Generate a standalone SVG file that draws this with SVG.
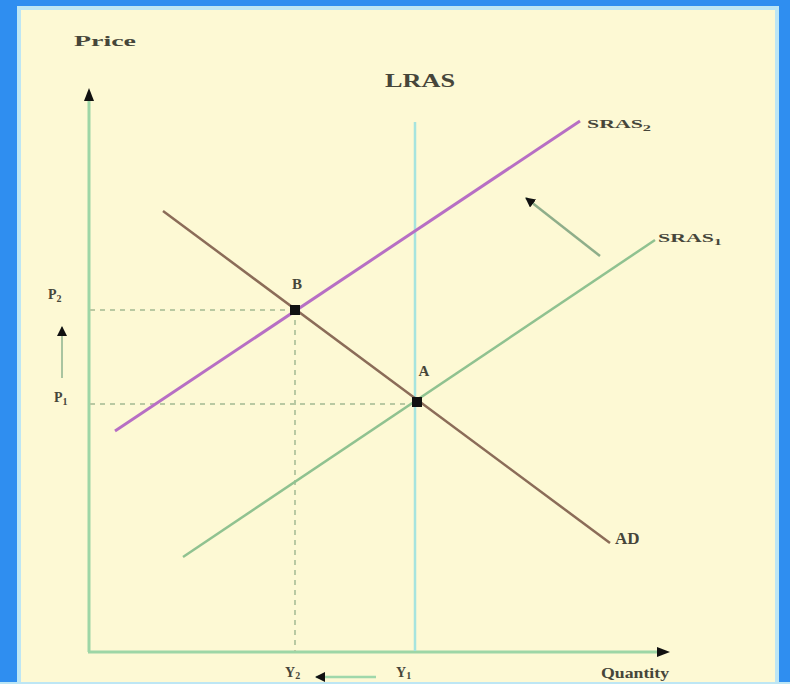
<svg xmlns="http://www.w3.org/2000/svg" width="790" height="684" viewBox="0 0 790 684">
<defs>
<style>
.lbl{font-family:"Liberation Serif",serif;font-weight:bold;fill:#46463a}
.axis{stroke:#9dd6a6;stroke-width:3;fill:none}
.dash{stroke:#b9c9a2;stroke-width:2;stroke-dasharray:5 5;fill:none}
.pt{fill:#111}
</style>
<marker id="ah2" viewBox="0 0 10 10" refX="9" refY="5" markerWidth="10" markerHeight="10" orient="auto" markerUnits="userSpaceOnUse">
<path d="M0,0 L10,5 L0,10 z" fill="#111"/>
</marker>
</defs>
<rect x="0" y="0" width="790" height="684" fill="#2f8ef0"/>
<rect x="19" y="8" width="758" height="680" fill="#fdf9d4" stroke="#bde6f4" stroke-width="4"/>

<g id="axes">
<line class="axis" x1="89" y1="652" x2="89" y2="100"/>
<path d="M89,88 L84,101 L94,101 z" fill="#111"/>
<line class="axis" x1="88" y1="652" x2="658" y2="652"/>
<path d="M670,652 L657,647 L657,657 z" fill="#111"/>
</g>

<g id="connectors">
<line class="dash" x1="90" y1="310" x2="295" y2="310"/>
<line class="dash" x1="90" y1="404" x2="417" y2="404"/>
<line class="dash" x1="295" y1="310" x2="295" y2="651"/>
<line x1="415" y1="122" x2="415" y2="651" stroke="#a6e4de" stroke-width="2.5"/>
<line x1="183" y1="557" x2="655" y2="240" stroke="#90c290" stroke-width="2.5"/>
<line x1="115" y1="431" x2="580" y2="121" stroke="#b76fc4" stroke-width="3"/>
<line x1="163" y1="211" x2="610" y2="543" stroke="#8b6c58" stroke-width="2.5"/>
<line x1="600" y1="256" x2="526" y2="198" stroke="#8fae8a" stroke-width="2.5" marker-end="url(#ah2)"/>
<line x1="62" y1="378" x2="62" y2="327" stroke="#a9c4a0" stroke-width="2" marker-end="url(#ah2)"/>
<line x1="376" y1="677" x2="316" y2="677" stroke="#9fd8aa" stroke-width="2.5" marker-end="url(#ah2)"/>
</g>

<g id="pointB"><rect class="pt" x="290" y="305" width="10" height="10"/><text class="lbl" x="297" y="289" font-size="15" text-anchor="middle">B</text></g>
<g id="pointA"><rect class="pt" x="412" y="397" width="10" height="10"/><text class="lbl" x="424" y="376" font-size="15" text-anchor="middle">A</text></g>

<g id="labels">
<text class="lbl" x="74" y="46" font-size="15" textLength="62" lengthAdjust="spacingAndGlyphs">Price</text>
<text class="lbl" x="385" y="87" font-size="19" textLength="70" lengthAdjust="spacingAndGlyphs">LRAS</text>
<text class="lbl" x="587" y="128" font-size="12" textLength="64" lengthAdjust="spacingAndGlyphs">SRAS<tspan font-size="9" dy="3">2</tspan></text>
<text class="lbl" x="658" y="242" font-size="12" textLength="64" lengthAdjust="spacingAndGlyphs">SRAS<tspan font-size="9" dy="3">1</tspan></text>
<text class="lbl" x="615" y="544" font-size="17">AD</text>
<text class="lbl" x="48" y="299" font-size="14">P<tspan font-size="10" dy="3">2</tspan></text>
<text class="lbl" x="54" y="402" font-size="14">P<tspan font-size="10" dy="3">1</tspan></text>
<text class="lbl" x="285" y="677" font-size="14">Y<tspan font-size="10" dy="2">2</tspan></text>
<text class="lbl" x="396" y="677" font-size="14">Y<tspan font-size="10" dy="2">1</tspan></text>
<text class="lbl" x="601" y="678" font-size="15" textLength="68" lengthAdjust="spacingAndGlyphs">Quantity</text>
</g>
<rect x="0" y="682" width="790" height="2" fill="#bde6f4"/>
</svg>
